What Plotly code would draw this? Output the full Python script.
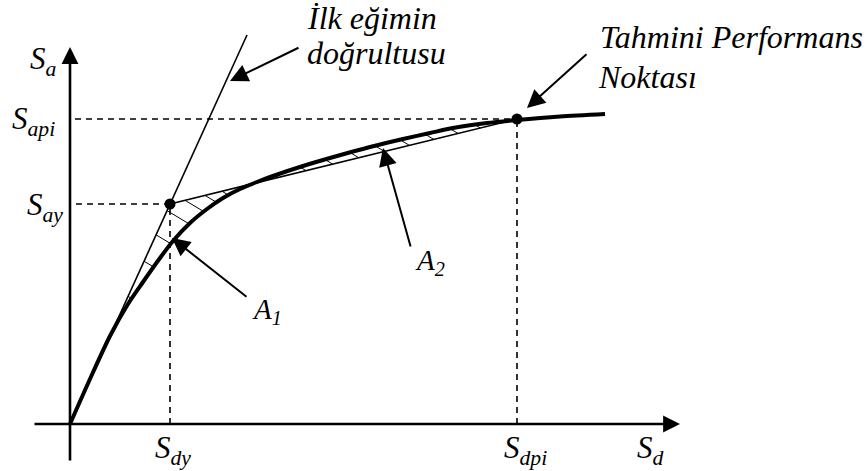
import numpy as np
import plotly.graph_objects as go

# Capacity curve (spectral displacement Sd vs spectral acceleration Sa), drawing units
sd_curve = [0, 20, 40, 58, 73, 90, 103, 120, 137, 153, 170, 187, 203, 233, 267,
            300, 333, 360, 383, 417, 447, 490, 535]
sa_curve = [0, 45, 88, 120, 142, 166, 183, 201, 215, 226, 235, 242, 248, 258, 268,
            277, 285, 291, 296, 301, 304, 307.5, 310]

# Bilinear idealisation: yield point and estimated performance point
yield_pt = (100, 220)      # (Sdy, Say)
perf_pt = (447, 305)       # (Sdpi, Sapi)
init_slope_end = (177, 389)

# Axis extents
x_axis = (-37, 610)
y_axis = (-38, 377)

FONT = "Liberation Serif, Times New Roman, DejaVu Serif, serif"
INK = "black"


def bilinear(x):
    x = np.asarray(x, dtype=float)
    k0 = yield_pt[1] / yield_pt[0]
    k1 = (perf_pt[1] - yield_pt[1]) / (perf_pt[0] - yield_pt[0])
    return np.where(x <= yield_pt[0], k0 * x, yield_pt[1] + (x - yield_pt[0]) * k1)


def curve(x):
    return np.interp(x, sd_curve, sa_curve)


def hatch(x0, top, bottom, d=(1.0, -0.6)):
    """Short slanted stroke from the upper boundary down to the lower one."""
    d = np.array(d) / np.hypot(*d)
    y0 = float(top(x0))
    for t in np.arange(0.2, 40, 0.2):
        x, y = x0 + d[0] * t, y0 + d[1] * t
        if y <= float(bottom(x)):
            return (x0, y0, x, y), t
    return None, 0


a1_starts = [58, 74, 86, 97, 115, 135, 152]
a2_starts = [205, 230, 255, 280, 305, 330, 355, 380, 405, 430]

fig = go.Figure()

shapes = []
line_thin = dict(color=INK, width=1.6)
dash = dict(color=INK, width=1.6, dash="6px,5px")

# Hatching of areas A1 and A2
for xs in a1_starts:
    seg, L = hatch(xs, bilinear, curve)
    if seg and L > 2:
        shapes.append(dict(type="line", x0=seg[0], y0=seg[1], x1=seg[2], y1=seg[3],
                           line=dict(color=INK, width=1)))
for xs in a2_starts:
    seg, L = hatch(xs, curve, bilinear)
    if seg and L > 2:
        shapes.append(dict(type="line", x0=seg[0], y0=seg[1], x1=seg[2], y1=seg[3],
                           line=dict(color=INK, width=1)))

# Dashed guide lines to the axes
shapes += [
    dict(type="line", x0=6, y0=yield_pt[1], x1=yield_pt[0], y1=yield_pt[1], line=dash),
    dict(type="line", x0=yield_pt[0], y0=0, x1=yield_pt[0], y1=yield_pt[1], line=dash),
    dict(type="line", x0=5, y0=perf_pt[1], x1=perf_pt[0], y1=perf_pt[1], line=dash),
    dict(type="line", x0=perf_pt[0], y0=0, x1=perf_pt[0], y1=perf_pt[1], line=dash),
]

# Initial slope and secant branch
shapes += [
    dict(type="line", x0=0, y0=0, x1=init_slope_end[0], y1=init_slope_end[1], line=line_thin),
    dict(type="line", x0=yield_pt[0], y0=yield_pt[1], x1=perf_pt[0], y1=perf_pt[1], line=line_thin),
]

# Capacity curve
fig.add_trace(go.Scatter(x=sd_curve, y=sa_curve, mode="lines",
                         line=dict(color=INK, width=4, shape="spline", smoothing=0.8),
                         hoverinfo="skip"))
# Characteristic points
fig.add_trace(go.Scatter(x=[yield_pt[0], perf_pt[0]], y=[yield_pt[1], perf_pt[1]],
                         mode="markers", marker=dict(color=INK, size=11),
                         hoverinfo="skip"))


def arrow(tip, tail, width=2, size=1.8):
    fig.add_annotation(x=tip[0], y=tip[1], ax=tail[0], ay=tail[1], xref="x", yref="y",
                       axref="x", ayref="y", text="", showarrow=True, arrowhead=2,
                       arrowsize=size, arrowwidth=width, arrowcolor=INK, standoff=0)


def label(x, y, text, size=31):
    fig.add_annotation(x=x, y=y, xref="x", yref="y", text=text, showarrow=False,
                       xanchor="left", yanchor="middle",
                       font=go.layout.annotation.Font(family=FONT, size=size, color=INK))


# Axes with arrowheads
arrow((x_axis[1], 0), (x_axis[0], 0), width=2.6, size=1.3)
arrow((0, y_axis[1]), (0, y_axis[0]), width=2.6, size=1.3)

# Pointer arrows
arrow((160, 343), (230, 377))
arrow((457, 316), (518, 371))
arrow((102, 186), (178, 126))
arrow((313, 276), (341, 176))

# Axis and point labels
label(-42, 363, "<i>S<sub>a</sub></i>")
label(-60, 303, "<i>S<sub>api</sub></i>")
label(-45, 217, "<i>S<sub>ay</sub></i>")
label(83, -26, "<i>S<sub>dy</sub></i>")
label(432, -26, "<i>S<sub>dpi</sub></i>")
label(565, -26, "<i>S<sub>d</sub></i>")
label(180, 113, "<i>A<sub>1</sub></i>", size=29)
label(343, 162, "<i>A<sub>2</sub></i>", size=29)

# Callout texts
label(235, 406, "<i>İlk eğimin</i>", size=32)
label(235, 371, "<i>doğrultusu</i>", size=32)
label(528, 387, "<i>Tahmini Performans</i>", size=32)
label(526, 347, "<i>Noktası</i>", size=32)

fig.update_layout(
    shapes=shapes,
    font=dict(family=FONT, size=24, color=INK),
    width=868, height=471,
    margin=dict(l=0, r=0, t=0, b=0),
    paper_bgcolor="white", plot_bgcolor="white",
    showlegend=False,
    xaxis=dict(range=[-70, 798], visible=False, fixedrange=True),
    yaxis=dict(range=[-47, 424], visible=False, fixedrange=True),
)

fig.write_html("out.html", config={"displayModeBar": False})
